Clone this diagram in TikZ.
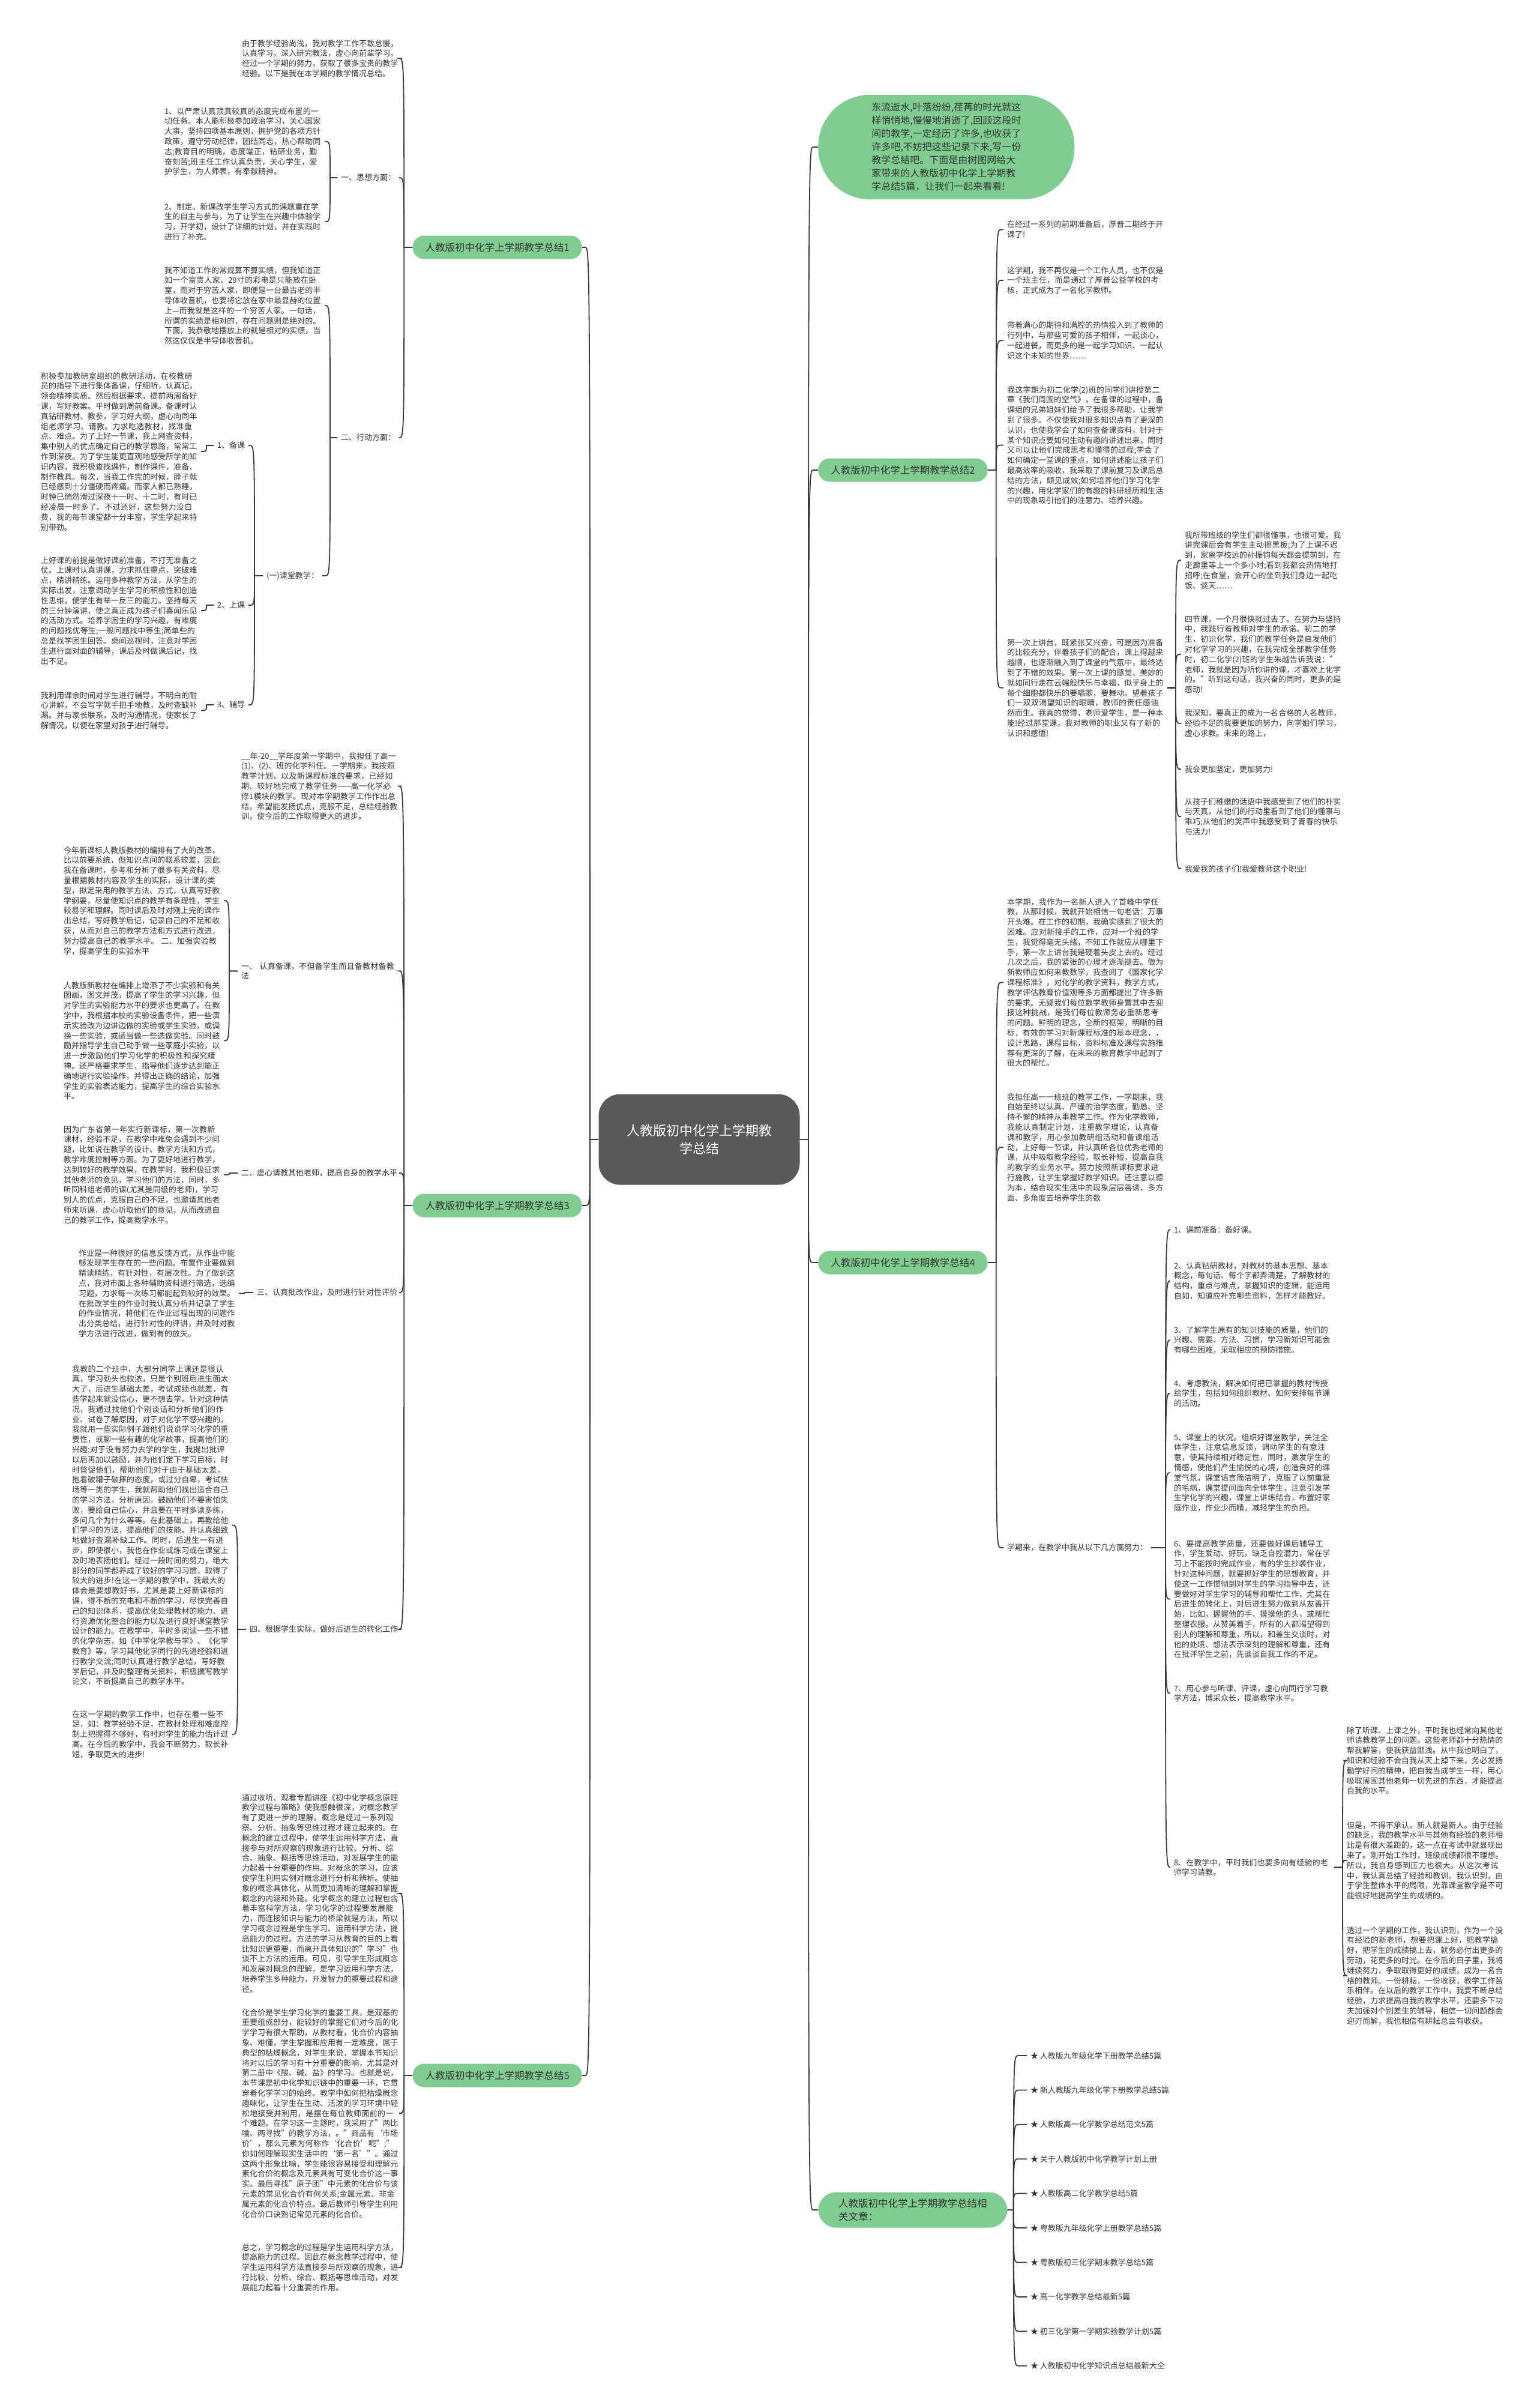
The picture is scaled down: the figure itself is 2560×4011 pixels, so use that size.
\documentclass[tikz,border=0pt]{standalone}
\usepackage{fontspec}
\setmainfont{Noto Sans CJK SC}
\usetikzlibrary{calc}
\XeTeXlinebreaklocale "zh"
\XeTeXlinebreakskip=0pt plus 0.5pt

\definecolor{mapgreen}{HTML}{7FCD91}
\definecolor{hubgray}{HTML}{595959}
\definecolor{txtgray}{HTML}{333333}
\definecolor{lnkgray}{HTML}{3A3A3A}

\newcommand{\leaffont}{\fontsize{6.5pt}{8.4pt}\selectfont}
\newcommand{\branchfont}{\fontsize{8.25pt}{11pt}\selectfont}
\newcommand{\introfont}{\fontsize{8pt}{11pt}\selectfont}
\newcommand{\hubfont}{\fontsize{11pt}{15pt}\selectfont}

\tikzset{
  leaf/.style={font=\leaffont, text=txtgray, text width=130.5pt, align=left, inner sep=0pt, outer sep=3pt},
  sub/.style={font=\leaffont, text=txtgray, inner sep=0pt, outer sep=3pt},
  branch/.style={font=\branchfont, text=txtgray, fill=mapgreen,
    rounded corners=9.5pt, minimum width=141pt, minimum height=19.5pt, inner xsep=4pt},
  lnk/.style={draw=lnkgray, line width=0.9pt},
  rlink/.style={to path={let \p1=(\tikztostart), \p2=(\tikztotarget) in
    (\p1) -- (\x1+#1,\y1) .. controls (\x1+#1,\y2) and (\x1+#1,\y2) .. (\x1+#1+4pt,\y2) -- (\p2)}},
  llink/.style={to path={let \p1=(\tikztostart), \p2=(\tikztotarget) in
    (\p1) -- (\x1-#1,\y1) .. controls (\x1-#1,\y2) and (\x1-#1,\y2) .. (\x1-#1-4pt,\y2) -- (\p2)}},
}

\begin{document}
\begin{tikzpicture}[x=0.5pt, y=-0.5pt]
\fill[white] (0,0) rectangle (2560,4011);
\useasboundingbox (0,0) rectangle (2560,4011);

% centre and first level
\node[fill=hubgray, text=white, font=\hubfont, rounded corners=18pt, minimum width=167.5pt,
  minimum height=75.5pt, align=center] (hub) at (1165,1898) {人教版初中化学上学期教\\学总结};
\node[fill=mapgreen, text=txtgray, font=\introfont, rounded corners=43pt, minimum width=213.5pt,
  minimum height=87pt, align=left, anchor=west] (intro) at (1363,245)
  {东流逝水,叶落纷纷,荏苒的时光就这\\样悄悄地,慢慢地消逝了,回顾这段时\\间的教学,一定经历了许多,也收获了\\许多吧,不妨把这些记录下来,写一份\\教学总结吧。下面是由树图网给大\\家带来的人教版初中化学上学期教\\学总结5篇，让我们一起来看看!};
\node[branch, anchor=east] (sum1) at (970,412) {人教版初中化学上学期教学总结1};
\node[branch, anchor=west] (sum2) at (1363,783) {人教版初中化学上学期教学总结2};
\node[branch, anchor=east] (sum3) at (970,2008) {人教版初中化学上学期教学总结3};
\node[branch, anchor=west] (sum4) at (1363,2103) {人教版初中化学上学期教学总结4};
\node[branch, anchor=east] (sum5) at (970,3457) {人教版初中化学上学期教学总结5};
\node[fill=mapgreen, text=txtgray, font=\branchfont, rounded corners=15pt, minimum width=157.5pt,
  minimum height=29.5pt, align=left, anchor=west] (rel) at (1363,3681)
  {人教版初中化学上学期教学总结相\\关文章：};

\foreach \b in {intro,sum2,sum4,rel}
  \draw[lnk] (hub.east) to[rlink=7pt] (\b.west);
\foreach \b in {sum1,sum3,sum5}
  \draw[lnk] (hub.west) to[llink=7pt] (\b.east);

% 总结1
\node[leaf, anchor=north west] (s1intro) at (397,60) {由于教学经验尚浅，我对教学工作不敢怠慢，认真学习，深入研究教法，虚心向前辈学习。经过一个学期的努力，获取了很多宝贵的教学经验。以下是我在本学期的教学情况总结。};
\node[sub, anchor=west] (s1think) at (562,296) {一、思想方面：};
\node[sub, anchor=west] (s1act) at (562,729) {二、行动方面：};
\node[leaf, anchor=north west] (s1think1) at (268,173) {1、以严肃认真顶真较真的态度完成布置的一切任务。本人能积极参加政治学习，关心国家大事，坚持四项基本原则，拥护党的各项方针政策，遵守劳动纪律，团结同志，热心帮助同志;教育目的明确，态度端正，钻研业务，勤奋刻苦;班主任工作认真负责，关心学生，爱护学生，为人师表，有奉献精神。};
\node[leaf, anchor=north west] (s1think2) at (268,332) {2、制定。新课改学生学习方式的课题重在学生的自主与参与，为了让学生在兴趣中体验学习，开学初，设计了详细的计划，并在实践时进行了补充。};
\node[leaf, anchor=north west] (s1act1) at (268,438) {我不知道工作的常规算不算实绩，但我知道正如一个富贵人家，29寸的彩电是只能放在卧室，而对于穷苦人家，即便是一台最古老的半导体收音机，也要将它放在家中最显赫的位置上—而我就是这样的一个穷苦人家。一句话，所谓的实绩是相对的，存在问题则是绝对的。下面，我恭敬地摆放上的就是相对的实绩，当然这仅仅是半导体收音机。};
\node[sub, anchor=west] (s1class) at (438,959) {(一)课堂教学：};
\node[sub, anchor=west] (s1prep) at (356,742) {1、备课};
\node[sub, anchor=west] (s1teach) at (356,1008) {2、上课};
\node[sub, anchor=west] (s1tutor) at (356,1174) {3、辅导};
\node[leaf, anchor=north west] (s1prep1) at (62,614) {积极参加教研室组织的教研活动，在校教研员的指导下进行集体备课，仔细听，认真记，领会精神实质。然后根据要求，提前两周备好课，写好教案。平时做到周前备课。备课时认真钻研教材、教参，学习好大纲，虚心向同年组老师学习、请教。力求吃透教材，找准重点、难点。为了上好一节课，我上网查资料，集中别人的优点确定自己的教学思路，常常工作到深夜。为了学生能更直观地感受所学的知识内容，我积极查找课件，制作课件，准备、制作教具。每次，当我工作完的时候，脖子就已经感到十分僵硬而疼痛。而家人都已熟睡，时钟已悄然滑过深夜十一时、十二时，有时已经凌晨一时多了。不过还好，这些努力没白费，我的每节课堂都十分丰富，学生学起来特别带劲。};
\node[leaf, anchor=north west] (s1teach1) at (62,921) {上好课的前提是做好课前准备，不打无准备之仗。上课时认真讲课，力求抓住重点，突破难点，精讲精练。运用多种教学方法，从学生的实际出发，注意调动学生学习的积极性和创造性思维，使学生有举一反三的能力。坚持每天的三分钟演讲，使之真正成为孩子们喜闻乐见的活动方式。培养学困生的学习兴趣，有难度的问题找优等生;一般问题找中等生;简单些的总是找学困生回答。桌间巡视时，注意对学困生进行面对面的辅导，课后及时做课后记，找出不足。};
\node[leaf, anchor=north west] (s1tutor1) at (62,1146) {我利用课余时间对学生进行辅导，不明白的耐心讲解，不会写字就手把手地教，及时查缺补漏。并与家长联系，及时沟通情况，使家长了解情况，以便在家里对孩子进行辅导。};

\foreach \c in {s1intro,s1think,s1act}
  \draw[lnk] (sum1.west) to[llink=7pt] (\c.east);
\foreach \c in {s1think1,s1think2}
  \draw[lnk] (s1think.west) to[llink=6pt] (\c.east);
\foreach \c in {s1act1,s1class}
  \draw[lnk] (s1act.west) to[llink=6pt] (\c.east);
\foreach \c in {s1prep,s1teach,s1tutor}
  \draw[lnk] (s1class.west) to[llink=7pt] (\c.east);
\draw[lnk] (s1prep.west) to[llink=6pt] (s1prep1.east);
\draw[lnk] (s1teach.west) to[llink=6pt] (s1teach1.east);
\draw[lnk] (s1tutor.west) to[llink=6pt] (s1tutor1.east);

% 总结3
\node[leaf, anchor=north west] (s3intro) at (396,1247) {\_\_年-20\_\_学年度第一学期中，我担任了高一(1)、(2)、班的化学科任。一学期来，我按照教学计划，以及新课程标准的要求，已经如期、较好地完成了教学任务——高一化学必修1模块的教学。现对本学期教学工作作出总结，希望能发扬优点，克服不足，总结经验教训，使今后的工作取得更大的进步。};
\node[leaf, anchor=north west] (s3one) at (396,1597) {一、 认真备课，不但备学生而且备教材备教法};
\node[sub, anchor=west] (s3two) at (396,1954) {二、虚心请教其他老师，提高自身的教学水平};
\node[sub, anchor=west] (s3three) at (422,2153) {三、认真批改作业，及时进行针对性评价};
\node[sub, anchor=west] (s3four) at (410,2714) {四、根据学生实际，做好后进生的转化工作};
\node[leaf, anchor=north west] (s3one1) at (100,1404) {今年新课标人教版教材的编排有了大的改革，比以前要系统，但知识点间的联系较差，因此我在备课时，参考和分析了很多有关资料，尽量根据教材内容及学生的实际，设计课的类型，拟定采用的教学方法、方式，认真写好教学纲要，尽量使知识点的教学有条理性，学生较易学和理解。同时课后及时对刚上完的课作出总结，写好教学后记，记录自己的不足和收获，从而对自己的教学方法和方式进行改进，努力提高自己的教学水平。 二、加强实验教学，提高学生的实验水平};
\node[leaf, anchor=north west] (s3one2) at (100,1629) {人教版新教材在编排上增添了不少实验和有关图画，图文并茂，提高了学生的学习兴趣，但对学生的实验能力水平的要求也更高了。在教学中，我根据本校的实验设备条件，把一些演示实验改为边讲边做的实验或学生实验，或调换一些实验，或适当做一些选做实验。同时鼓励并指导学生自己动手做一些家庭小实验，以进一步激励他们学习化学的积极性和探究精神。还严格要求学生，指导他们逐步达到能正确地进行实验操作，并得出正确的结论，加强学生的实验表达能力，提高学生的综合实验水平。};
\node[leaf, anchor=north west] (s3two1) at (100,1869) {因为广东省第一年实行新课标，第一次教新课材，经验不足，在教学中难免会遇到不少问题，比如说在教学的设计、教学方法和方式，教学难度控制等方面。为了更好地进行教学，达到较好的教学效果，在教学时，我积极征求其他老师的意见，学习他们的方法，同时，多听同科组老师的课(尤其是同级的老师)，学习别人的优点，克服自己的不足，也邀请其他老师来听课，虚心听取他们的意见，从而改进自己的教学工作，提高教学水平。};
\node[leaf, anchor=north west] (s3three1) at (125,2075) {作业是一种很好的信息反馈方式，从作业中能够发现学生存在的一些问题。布置作业要做到精读精练，有针对性，有层次性。为了做到这点，我对市面上各种辅助资料进行筛选，选编习题，力求每一次练习都能起到较好的效果。在批改学生的作业时我认真分析并记录了学生的作业情况，将他们在作业过程出现的问题作出分类总结，进行针对性的评讲，并及时对教学方法进行改进，做到有的放矢。};
\node[leaf, anchor=north west] (s3four1) at (114,2268) {我教的二个班中，大部分同学上课还是很认真，学习劲头也较浓，只是个别班后进生面太大了，后进生基础太差，考试成绩也就差，有些学起来就没信心，更不想去学。针对这种情况，我通过找他们个别谈话和分析他们的作业、试卷了解原因，对于对化学不感兴趣的，我就用一些实际例子跟他们说说学习化学的重要性，或聊一些有趣的化学故事，提高他们的兴趣;对于没有努力去学的学生，我提出批评以后再加以鼓励，并为他们定下学习目标，时时督促他们，帮助他们;对于由于基础太差，抱着破罐子破摔的态度，或过分自卑，考试怯场等一类的学生，我就帮助他们找出适合自己的学习方法，分析原因，鼓励他们不要害怕失败，要给自己信心，并且要在平时多读多练，多问几个为什么等等。在此基础上，再教给他们学习的方法，提高他们的技能。并认真细致地做好查漏补缺工作。同时，后进生一有进步，即使很小，我也在作业或练习或在课堂上及时地表扬他们。经过一段时间的努力，绝大部分的同学都养成了较好的学习习惯，取得了较大的进步!在这一学期的教学中，我最大的体会是要想教好书，尤其是要上好新课标的课，得不断的充电和不断的学习，尽快完善自己的知识体系，提高优化处理教材的能力、进行资源优化整合的能力以及进行良好课堂教学设计的能力。在教学中，平时多阅读一些不错的化学杂志，如《中学化学教与学》、《化学教育》等，学习其他化学同行的先进经验和进行教学交流;同时认真进行教学总结，写好教学后记，并及时整理有关资料，积极撰写教学论文，不断提高自己的教学水平。};
\node[leaf, anchor=north west] (s3four2) at (114,2843) {在这一学期的教学工作中，也存在着一些不足，如：教学经验不足，在教材处理和难度控制上把握得不够好，有时对学生的能力估计过高。在今后的教学中，我会不断努力，取长补短，争取更大的进步!};

\foreach \c in {s3intro,s3one,s3two,s3three,s3four}
  \draw[lnk] (sum3.west) to[llink=7pt] (\c.east);
\foreach \c in {s3one1,s3one2}
  \draw[lnk] (s3one.west) to[llink=7pt] (\c.east);
\draw[lnk] (s3two.west) to[llink=7pt] (s3two1.east);
\draw[lnk] (s3three.west) to[llink=7pt] (s3three1.east);
\foreach \c in {s3four1,s3four2}
  \draw[lnk] (s3four.west) to[llink=7pt] (\c.east);

% 总结5
\node[leaf, anchor=north west] (s5a) at (397,2982) {通过收听、观看专题讲座《初中化学概念原理教学过程与策略》使我感触很深，对概念教学有了更进一步的理解。概念是经过一系列观察、分析、抽象等思维过程才建立起来的。在概念的建立过程中，使学生运用科学方法，直接参与对所观察的现象进行比较、分析、综合、抽象、概括等思维活动，对发展学生的能力起着十分重要的作用。对概念的学习，应该使学生利用实例对概念进行分析和辨析。使抽象的概念具体化，从而更加清晰的理解和掌握概念的内涵和外延。化学概念的建立过程包含着丰富科学方法，学习化学的过程要发展能力，而连接知识与能力的桥梁就是方法，所以学习概念过程是学生学习、运用科学方法，提高能力的过程。方法的学习从教育的目的上看比知识更重要，而离开具体知识的"学习"也谈不上方法的运用。可见，引导学生形成概念和发展对概念的理解，是学习运用科学方法，培养学生多种能力，开发智力的重要过程和途径。};
\node[leaf, anchor=north west] (s5b) at (397,3340) {化合价是学生学习化学的重要工具，是双基的重要组成部分，能较好的掌握它们对今后的化学学习有很大帮助，从教材看，化合价内容抽象、难懂，学生掌握和应用有一定难度，属于典型的枯燥概念，对学生来说，掌握本节知识将对以后的学习有十分重要的影响，尤其是对第二册中《酸、碱、盐》的学习。也就是说，本节课是初中化学知识链中的重要一环，它贯穿着化学学习的始终。教学中如何把枯燥概念趣味化，让学生在生动、活泼的学习环境中轻松地接受并利用，是摆在每位教师面前的一个难题。在学习这一主题时，我采用了"两比喻、两寻找"的教学方法，。"商品有‘市场价’，那么元素为何称作‘化合价’呢";"你如何理解现实生活中的‘第一名’"。通过这两个形象比喻，学生能很容易接受和理解元素化合价的概念及元素具有可变化合价这一事实。最后寻找"原子团"中元素的化合价与该元素的常见化合价有何关系;金属元素、非金属元素的化合价特点。最后教师引导学生利用化合价口诀熟记常见元素的化合价。};
\node[leaf, anchor=north west] (s5c) at (397,3731) {总之，学习概念的过程是学生运用科学方法，提高能力的过程。因此在概念教学过程中，使学生运用科学方法直接参与所观察的现象，进行比较、分析、综合、概括等思维活动，对发展能力起着十分重要的作用。};
\foreach \c in {s5a,s5b,s5c}
  \draw[lnk] (sum5.west) to[llink=7pt] (\c.east);

% 总结2
\node[leaf, anchor=north west] (s2a) at (1672,362) {在经过一系列的前期准备后，厚普二期终于开课了!};
\node[leaf, anchor=north west] (s2b) at (1672,438) {这学期，我不再仅是一个工作人员，也不仅是一个班主任，而是通过了厚普公益学校的考核，正式成为了一名化学教师。};
\node[leaf, anchor=north west] (s2c) at (1672,530) {带着满心的期待和满腔的热情投入到了教师的行列中，与那些可爱的孩子相伴，一起谈心，一起进餐，而更多的是一起学习知识、一起认识这个未知的世界……};
\node[leaf, anchor=north west] (s2d) at (1672,637) {我这学期为初二化学(2)班的同学们讲授第二章《我们周围的空气》，在备课的过程中，备课组的兄弟姐妹们给予了我很多帮助，让我学到了很多。不仅使我对很多知识点有了更深的认识，也使我学会了如何查备课资料，针对于某个知识点要如何生动有趣的讲述出来，同时又可以让他们完成思考和懂得的过程;学会了如何确定一堂课的重点，如何讲述能让孩子们最高效率的吸收，我采取了课前复习及课后总结的方法，颇见成效;如何培养他们学习化学的兴趣，用化学家们的有趣的科研经历和生活中的现象吸引他们的注意力、培养兴趣。};
\node[leaf, anchor=north west] (s2e) at (1672,1058) {第一次上讲台，既紧张又兴奋，可是因为准备的比较充分，伴着孩子们的配合，课上得越来越顺，也逐渐融入到了课堂的气氛中，最终达到了不错的效果。第一次上课的感觉，美妙的就如同行走在云端般快乐与幸福，似乎身上的每个细胞都快乐的要唱歌，要舞动。望着孩子们一双双渴望知识的眼睛，教师的责任感油然而生。我真的觉得，老师爱学生，是一种本能!经过那堂课，我对教师的职业又有了新的认识和感悟!};
\node[leaf, anchor=north west] (s2e1) at (1968,879) {我所带班级的学生们都很懂事，也很可爱。我讲完课后会有学生主动擦黑板;为了上课不迟到，家离学校远的孙振钧每天都会提前到，在走廊里等上一个多小时;看到我都会热情地打招呼;在食堂，会开心的坐到我们身边一起吃饭、谈天……};
\node[leaf, anchor=north west] (s2e2) at (1968,1019) {四节课，一个月很快就过去了。在努力与坚持中，我践行着教师对学生的承诺。初二的学生，初识化学，我们的教学任务是启发他们对化学学习的兴趣，在我完成全部教学任务时，初二化学(2)班的学生朱越告诉我说："老师，我就是因为听你讲的课，才喜欢上化学的。"听到这句话，我兴奋的同时，更多的是感动!};
\node[leaf, anchor=north west] (s2e3) at (1968,1176) {我深知，要真正的成为一名合格的人名教师，经验不足的我要更加的努力，向学姐们学习，虚心求教。未来的路上，};
\node[leaf, anchor=north west] (s2e4) at (1968,1269) {我会更加坚定，更加努力!};
\node[leaf, anchor=north west] (s2e5) at (1968,1323) {从孩子们稚嫩的话语中我感受到了他们的朴实与天真，从他们的行动里看到了他们的懂事与乖巧;从他们的笑声中我感受到了青春的快乐与活力!};
\node[leaf, anchor=north west] (s2e6) at (1968,1435) {我爱我的孩子们!我爱教师这个职业!};
\foreach \c in {s2a,s2b,s2c,s2d,s2e}
  \draw[lnk] (sum2.east) to[rlink=7pt] (\c.west);
\foreach \c in {s2e1,s2e2,s2e3,s2e4,s2e5,s2e6}
  \draw[lnk] (s2e.east) to[rlink=7pt] (\c.west);

% 总结4
\node[leaf, anchor=north west] (s4a) at (1672,1490) {本学期，我作为一名新人进入了首峰中学任教，从那时候，我就开始相信一句老话：万事开头难。在工作的初期，我确实感到了很大的困难。应对新接手的工作，应对一个班的学生，我觉得毫无头绪，不知工作就应从哪里下手，第一次上讲台我是硬着头皮上去的。经过几次之后，我的紧张的心理才逐渐褪去。做为新教师应如何来教数学，我查阅了《国家化学课程标准》，对化学的教学资料，教学方式，教学评估教育价值观等多方面都提出了许多新的要求。无疑我们每位数学教师身置其中去迎接这种挑战，是我们每位教师务必重新思考的问题。鲜明的理念，全新的框架，明晰的目标，有效的学习对新课程标准的基本理念，，设计思路，课程目标，资料标准及课程实施推荐有更深的了解，在未来的教育教学中起到了很大的帮忙。};
\node[leaf, anchor=north west] (s4b) at (1672,1815) {我担任高一一班班的教学工作，一学期来，我自始至终以认真、严谨的治学态度，勤恳、坚持不懈的精神从事教学工作。作为化学教师，我能认真制定计划，注重教学理论，认真备课和教学，用心参加教研组活动和备课组活动，上好每一节课，并认真听各位优秀老师的课，从中吸取教学经验，取长补短，提高自我的教学的业务水平。努力按照新课标要求进行施教，让学生掌握好数学知识。还注意以德为本，结合现实生活中的现象层层善诱，多方面、多角度去培养学生的数};
\node[sub, anchor=west] (s4c) at (1672,2578) {学期来，在教学中我从以下几方面努力：};
\node[leaf, anchor=north west] (s4c1) at (1950,2036) {1、课前准备：备好课。};
\node[leaf, anchor=north west] (s4c2) at (1950,2096) {2、认真钻研教材，对教材的基本思想、基本概念，每句话、每个字都弄清楚，了解教材的结构，重点与难点，掌握知识的逻辑，能运用自如，知道应补充哪些资料，怎样才能教好。};
\node[leaf, anchor=north west] (s4c3) at (1950,2203) {3、了解学生原有的知识技能的质量，他们的兴趣、需要、方法、习惯，学习新知识可能会有哪些困难，采取相应的预防措施。};
\node[leaf, anchor=north west] (s4c4) at (1950,2292) {4、考虑教法，解决如何把已掌握的教材传授给学生，包括如何组织教材、如何安排每节课的活动。};
\node[leaf, anchor=north west] (s4c5) at (1950,2382) {5、课堂上的状况。组织好课堂教学，关注全体学生，注意信息反馈，调动学生的有意注意，使其持续相对稳定性，同时，激发学生的情感，使他们产生愉悦的心境，创造良好的课堂气氛，课堂语言简洁明了，克服了以前重复的毛病，课堂提问面向全体学生，注意引发学生学化学的兴趣，课堂上讲练结合，布置好家庭作业，作业少而精，减轻学生的负担。};
\node[leaf, anchor=north west] (s4c6) at (1950,2559) {6、要提高教学质量，还要做好课后辅导工作，学生爱动、好玩，缺乏自控潜力，常在学习上不能按时完成作业，有的学生抄袭作业，针对这种问题，就要抓好学生的思想教育，并使这一工作惯彻到对学生的学习指导中去，还要做好对学生学习的辅导和帮忙工作，尤其在后进生的转化上，对后进生努力做到从友善开始，比如，握握他的手，摸摸他的头，或帮忙整理衣服。从赞美着手，所有的人都渴望得到别人的理解和尊重，所以，和差生交谈时，对他的处境、想法表示深刻的理解和尊重，还有在批评学生之前，先谈谈自我工作的不足。};
\node[leaf, anchor=north west] (s4c7) at (1950,2800) {7、用心参与听课、评课，虚心向同行学习教学方法，博采众长，提高教学水平。};
\node[leaf, anchor=north west] (s4c8) at (1950,3090) {8、在教学中，平时我们也要多向有经验的老师学习请教。};
\node[leaf, anchor=north west] (s4c8a) at (2238,2870) {除了听课、上课之外，平时我也经常向其他老师请教教学上的问题。这些老师都十分热情的帮我解答，使我获益匪浅。从中我也明白了，知识和经验不会自我从天上掉下来，务必发扬勤学好问的精神，把自我当成学生一样，用心吸取周围其他老师一切先进的东西，才能提高自我的水平。};
\node[leaf, anchor=north west] (s4c8b) at (2238,3028) {但是，不得不承认，新人就是新人。由于经验的缺乏，我的教学水平与其他有经验的老师相比是有很大差距的，这一点在考试中就显现出来了。刚开始工作时，班级成绩都很不理想。所以，我自身感到压力也很大。从这次考试中，我认真总结了经验和教训。我认识到，由于学生整体水平的局限，光靠课堂教学是不可能很好地提高学生的成绩的。};
\node[leaf, anchor=north west] (s4c8c) at (2238,3203) {透过一个学期的工作，我认识到，作为一个没有经验的新老师，想要把课上好，把教学搞好，把学生的成绩搞上去，就务必付出更多的劳动，花更多的时光。在今后的日子里，我将继续努力，争取取得更好的成绩，成为一名合格的教师。一份耕耘，一份收获，教学工作苦乐相伴。在以后的教学工作中，我要不断总结经验，力求提高自我的教学水平，还要多下功夫加强对个别差生的辅导，相信一切问题都会迎刃而解，我也相信有耕耘总会有收获。};
\foreach \c in {s4a,s4b,s4c}
  \draw[lnk] (sum4.east) to[rlink=7pt] (\c.west);
\foreach \c in {s4c1,s4c2,s4c3,s4c4,s4c5,s4c6,s4c7,s4c8}
  \draw[lnk] (s4c.east) to[rlink=12pt] (\c.west);
\foreach \c in {s4c8a,s4c8b,s4c8c}
  \draw[lnk] (s4c8.east) to[rlink=7pt] (\c.west);

% 相关文章
\foreach \t [count=\i] in {人教版九年级化学下册教学总结5篇, 新人教版九年级化学下册教学总结5篇,
  人教版高一化学教学总结范文5篇, 关于人教版初中化学教学计划上册, 人教版高二化学教学总结5篇,
  粤教版九年级化学上册教学总结5篇, 粤教版初三化学期末教学总结5篇, 高一化学教学总结最新5篇,
  初三化学第一学期实验教学计划5篇, 人教版初中化学知识点总结最新大全}
{
  \node[sub, anchor=west] (art\i) at (1711,{3424+57.4*(\i-1)}) {★ \t};
  \draw[lnk] (rel.east) to[rlink=5pt] (art\i.west);
}
\end{tikzpicture}
\end{document}
